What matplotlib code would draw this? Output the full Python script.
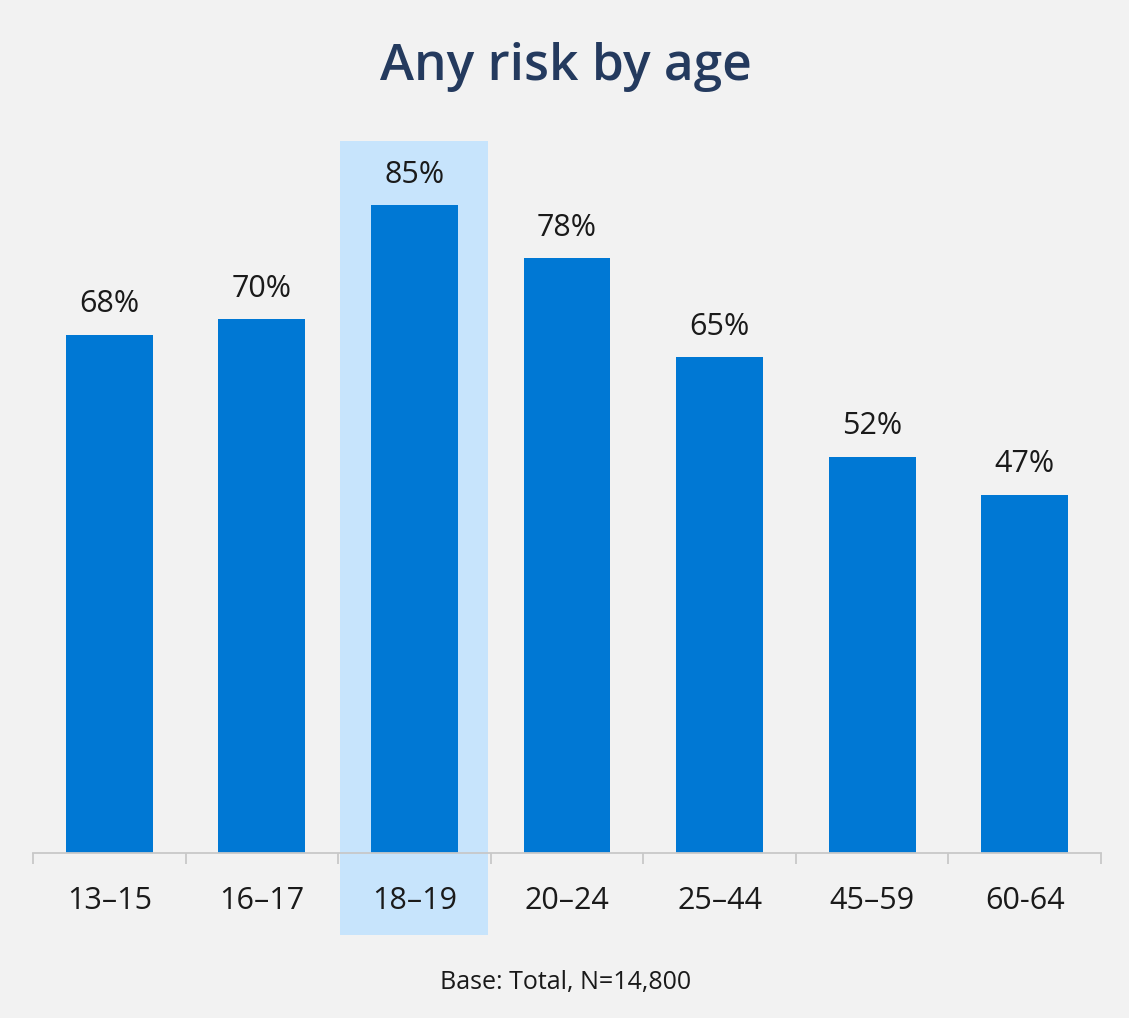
import matplotlib
matplotlib.use('Agg')
import matplotlib.pyplot as plt
from matplotlib.patches import Rectangle

categories = ['13–15', '16–17', '18–19', '20–24', '25–44', '45–59', '60-64']
values = [68, 70, 85, 78, 65, 52, 47]
labels = ['68%', '70%', '85%', '78%', '65%', '52%', '47%']
highlight = 2

title = 'Any risk by age'
footnote = 'Base: Total, N=14,800'

bg = '#f2f2f2'
bar_color = '#0078d4'
hl_color = '#c7e4fc'
title_color = '#243a5e'
text_color = '#1a1a1a'

plt.rcParams['font.family'] = ['Open Sans', 'DejaVu Sans']

W, H = 1129, 1018
fig = plt.figure(figsize=(W / 100, H / 100), dpi=100, facecolor=bg)

# axes placed in pixel terms: x 33..1101, baseline at y=853, 100% -> 762 px
ymax = 100
px_per = 648 / 85
ax = fig.add_axes([33 / W, (H - 853) / H, (1101 - 33) / W, ymax * px_per / H])
ax.set_facecolor('none')

x = list(range(len(categories)))
ax.set_xlim(-0.5, len(categories) - 0.5)
ax.set_ylim(0, ymax)

# highlight behind the selected category
hl_top = (853 - 141) / px_per
hl_bot = -(935 - 853) / px_per
ax.add_patch(Rectangle((highlight - 0.485, hl_bot), 0.97, hl_top - hl_bot,
                       facecolor=hl_color, edgecolor='none', clip_on=False, zorder=0))

ax.bar(x, values, width=0.57, color=bar_color, zorder=2)

for xi, v, lab in zip(x, values, labels):
    ax.text(xi, v + 2.0, lab, ha='center', va='bottom', fontsize=22,
            color=text_color, zorder=3)

for s in ['top', 'right', 'left']:
    ax.spines[s].set_visible(False)
ax.spines['bottom'].set_color('#c8c8c8')
ax.spines['bottom'].set_linewidth(1.3)
ax.set_yticks([])

# ticks at category boundaries, labels at centres
ax.set_xticks([i - 0.5 for i in range(len(categories) + 1)])
ax.set_xticklabels([])
ax.tick_params(axis='x', which='major', length=8, width=1.3, color='#c8c8c8')
ax.set_xticks(x, minor=True)
ax.set_xticklabels(categories, minor=True, fontsize=22, color=text_color)
ax.tick_params(axis='x', which='minor', length=0, pad=24)

fig.text(566 / W, 1 - 67 / H, title, ha='center', va='center', fontsize=37,
         fontweight='semibold', color=title_color)
fig.text(566 / W, 1 - 983 / H, footnote, ha='center', va='center', fontsize=18,
         color=text_color)

fig.savefig('out.png', dpi=100, facecolor=bg)
